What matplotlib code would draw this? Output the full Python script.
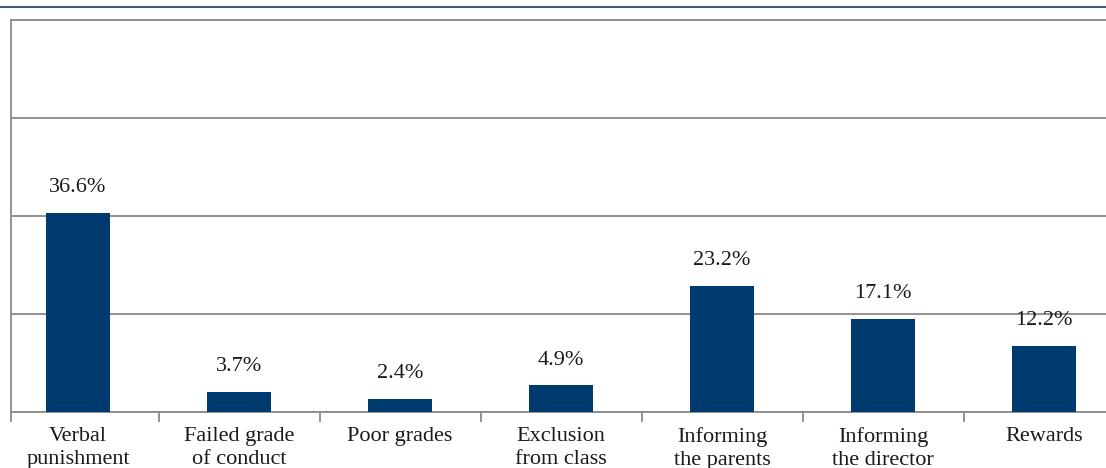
import numpy as np
import matplotlib.pyplot as plt
from matplotlib.lines import Line2D

categories = ["Verbal\npunishment", "Failed grade\nof conduct", "Poor grades",
              "Exclusion\nfrom class", "Informing\nthe parents",
              "Informing\nthe director", "Rewards"]
values = [36.6, 3.7, 2.4, 4.9, 23.2, 17.1, 12.2]
labels = ["36.6%", "3.7%", "2.4%", "4.9%", "23.2%", "17.1%", "12.2%"]

W, H = 1106, 468
fig = plt.figure(figsize=(W / 100, H / 100), dpi=100)
plt.rcParams['font.family'] = ['Liberation Serif', 'DejaVu Serif']

# axes box: left spine at x=11, zero line at y=412, top at y=20
ax = fig.add_axes([11 / W, (H - 412) / H, (W - 11) / W, 392 / H])

x = np.arange(len(categories))
ax.bar(x, values, width=0.4, color='#003b6f', zorder=3)

for xi, v, t in zip(x, values, labels):
    ax.annotate(t, (xi, v), xytext=(0, 18), textcoords='offset points',
                ha='center', va='center', fontsize=16, color='#1a1a1a')

ax.set_ylim(0, 72)
ax.set_yticks([0, 18, 36, 54, 72])
ax.yaxis.grid(True, color='#8a8a8a', linewidth=1.3, zorder=0)
ax.tick_params(axis='y', left=False, labelleft=False)

left = -67 / 161
ax.set_xlim(left, (W - 78) / 161)
ax.set_xticks(x)
ax.set_xticklabels(categories, fontsize=16, color='#1a1a1a', linespacing=1.25)
ax.tick_params(axis='x', length=0, pad=11)
ax.set_xticks([left] + [i + 0.5 for i in range(6)], minor=True)
ax.tick_params(axis='x', which='minor', length=7.5, width=1.3, color='#8a8a8a')

for s in ['top', 'left', 'bottom']:
    ax.spines[s].set_color('#8a8a8a')
    ax.spines[s].set_linewidth(1.3)
ax.spines['right'].set_visible(False)

# thin rule across the top of the figure
fig.add_artist(Line2D([0, 1], [1 - 7 / H, 1 - 7 / H], color='#1f3a5f', linewidth=1.2))

fig.savefig('out.png', dpi=100)
